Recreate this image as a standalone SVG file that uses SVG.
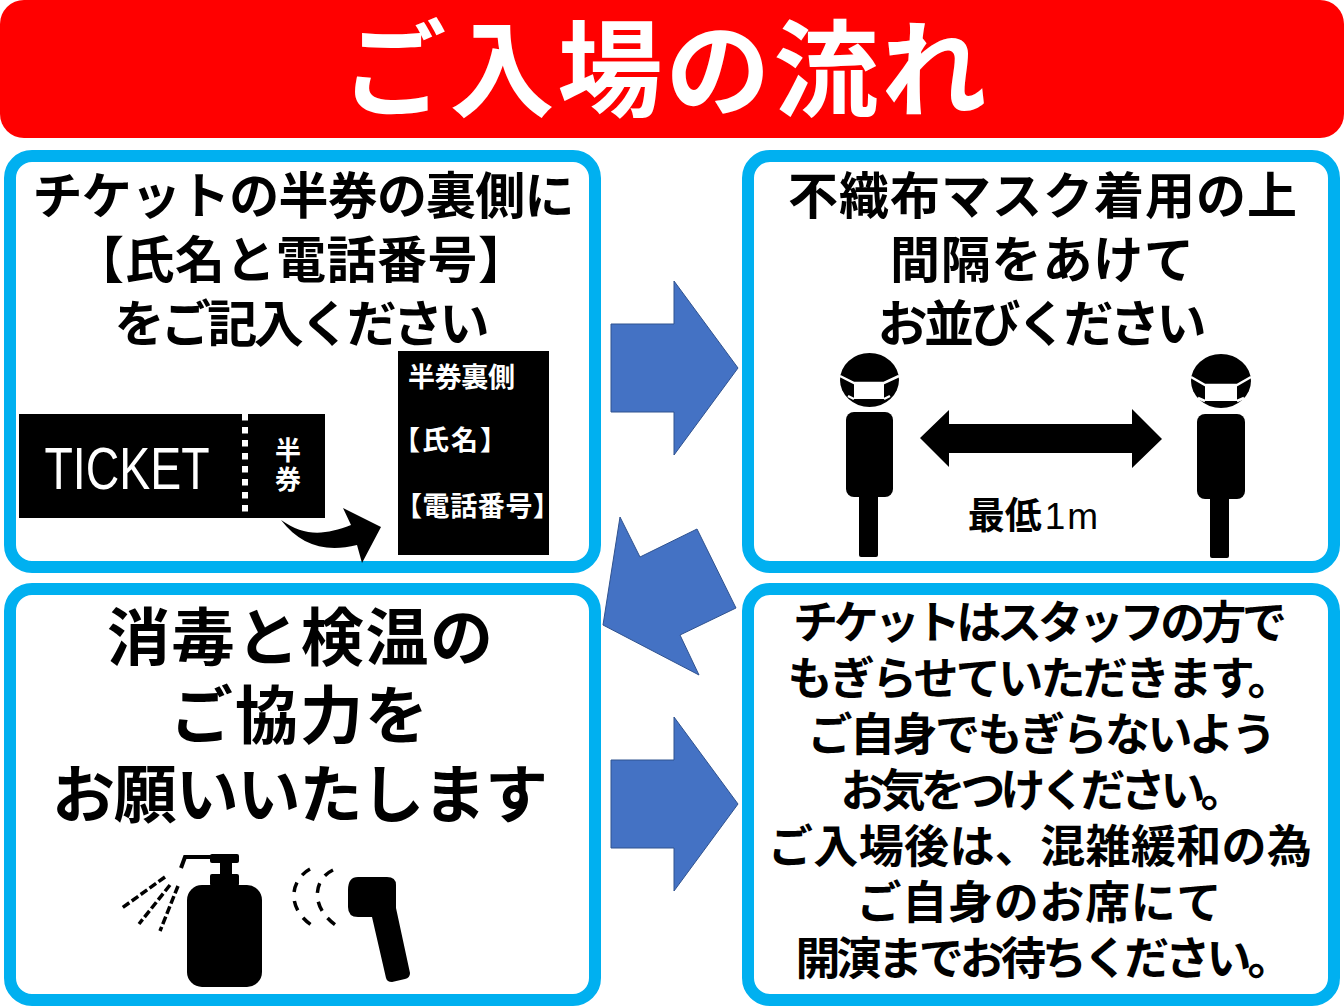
<svg xmlns="http://www.w3.org/2000/svg" width="1344" height="1008" viewBox="0 0 1344 1008">
<style>
text{font-family:"Noto Sans CJK JP","Noto Sans CJK SC",sans-serif;font-weight:700;text-anchor:middle;fill:#000}
.w{fill:#fff}
.s{text-anchor:start;font-size:27px}
.panel{fill:#fff;stroke:#00b0f0;stroke-width:12}
.arrow{fill:#4472c4;stroke:#2f528f;stroke-width:1}
.h1 text{font-size:50px}
.h3 text{font-size:63px}
.h4 text{font-size:45px}
.dash{fill:none;stroke:#000;stroke-width:3.5}
</style>
<rect width="1344" height="1008" fill="#fff"/>
<g id="title">
<rect x="0" y="0" width="1344" height="138" rx="24" fill="#f00"/>
<text class="w" x="664" y="108" style="font-size:105px" textLength="645">ご入場の流れ</text>
</g>
<g id="step1">
<rect class="panel" x="10" y="156" width="585" height="411" rx="22"/>
<g class="h1">
<text x="303.500" y="214" textLength="542">チケットの半券の裏側に</text>
<text x="301" y="278" textLength="454">【氏名と電話番号】</text>
<text x="302" y="342" textLength="375">をご記入ください</text>
</g>
<rect x="19" y="414" width="306" height="104" fill="#000"/>
<path d="M245 414V518" stroke="#fff" stroke-width="6" stroke-dasharray="6.500 6.500" fill="none"/>
<text class="w" x="127" y="489" style="font-family:'Liberation Sans',sans-serif;font-weight:400;font-size:60px" textLength="165" lengthAdjust="spacingAndGlyphs">TICKET</text>
<text class="w" x="288" y="460" style="font-size:26px">半</text>
<text class="w" x="288" y="489" style="font-size:26px">券</text>
<rect x="398" y="351" width="151" height="204" fill="#000"/>
<text class="w s" x="408" y="387" textLength="107">半券裏側</text>
<text class="w s" x="393" y="450" textLength="114">【氏名】</text>
<text class="w s" x="395" y="516" textLength="165">【電話番号】</text>
<path d="M281 520C305 537 325 535 351 525L343 508L381 527L362 563L357 545C325 553 300 545 281 520Z" fill="#000"/>
</g>
<g id="step2">
<rect class="panel" x="748" y="156" width="586" height="411" rx="22"/>
<g class="h1">
<text x="1042.500" y="214" textLength="509">不織布マスク着用の上</text>
<text x="1042" y="278" textLength="304">間隔をあけて</text>
<text x="1042" y="342" textLength="329">お並びください</text>
</g>
<g id="person-left">
<ellipse cx="869.500" cy="380" rx="29.500" ry="27" fill="#000"/>
<path d="M840 376L854 383H884L899 376M854 399L848 396M884 399L890 396" fill="none" stroke="#fff" stroke-width="2.500"/>
<path d="M854 382H884V399H854Z" fill="#fff"/>
<rect x="846" y="412" width="47" height="85" rx="8" fill="#000"/>
<rect x="859" y="490" width="19" height="67" rx="2" fill="#000"/>
</g>
<g id="person-right">
<ellipse cx="1221" cy="381" rx="30" ry="27" fill="#000"/>
<path d="M1191 377L1205 385H1237L1251 377M1205 401L1198 398M1237 401L1244 398" fill="none" stroke="#fff" stroke-width="2.500"/>
<path d="M1205 384H1237V401H1205Z" fill="#fff"/>
<rect x="1197" y="414" width="48" height="85" rx="8" fill="#000"/>
<rect x="1210" y="490" width="19" height="68" rx="2" fill="#000"/>
</g>
<path d="M920 438L949 410V424H1132V409L1162 439L1132 468V453H949V467Z" fill="#000"/>
<text x="1034" y="529" style="font-size:37px">最低<tspan dx="3" style="font-family:'Liberation Sans',sans-serif;font-weight:400;letter-spacing:2px">1m</tspan></text>
</g>
<g id="step3">
<rect class="panel" x="10" y="589" width="585" height="411" rx="22"/>
<g class="h3">
<text x="300" y="660" textLength="386">消毒と検温の</text>
<text x="299" y="738" textLength="258">ご協力を</text>
<text x="300" y="817" textLength="496">お願いいたします</text>
</g>
<g id="bottle">
<path d="M181 868L185 857H211" stroke="#000" fill="none" stroke-width="4"/>
<rect x="210" y="854" width="29" height="9" rx="2" fill="#000"/>
<rect x="220" y="860" width="12" height="16" fill="#000"/>
<rect x="210" y="874" width="29" height="12" rx="2" fill="#000"/>
<rect x="187" y="885" width="75" height="102" rx="15" fill="#000"/>
<path d="M165 877L122 908M170 885L139 924M178 886L160 931" fill="none" stroke="#000" stroke-width="3.500" stroke-dasharray="8 3"/>
</g>
<g id="thermometer">
<path d="M348 890Q348 877 358 877H387Q396 877 396 885L396 908L410 973Q410 978 405 979L392 982Q387 982 386 978L372 917H358Q348 917 348 907Z" fill="#000"/>
<path d="M310 869C290 880 285 910 316 928M333 870C312 880 310 910 340 928" class="dash" stroke-dasharray="10 9"/>
</g>
</g>
<g id="step4">
<rect class="panel" x="748" y="589" width="586" height="411" rx="22"/>
<g class="h4">
<text x="1040" y="639" textLength="494">チケットはスタッフの方で</text>
<text x="1040" y="695" textLength="505">もぎらせていただきます。</text>
<text x="1042" y="751" textLength="469">ご自身でもぎらないよう</text>
<text x="1043" y="807" textLength="405">お気をつけください。</text>
<text x="1040" y="863" textLength="544">ご入場後は、混雑緩和の為</text>
<text x="1039" y="919" textLength="365">ご自身のお席にて</text>
<text x="1044" y="975" textLength="497">開演までお待ちください。</text>
</g>
</g>
<g id="connectors">
<path class="arrow" d="M611 324H674V281L738 368L674 455V412H611Z"/>
<path class="arrow" d="M611 760H674V717L738 804L674 891V848H611Z"/>
<path class="arrow" d="M620 517L640 557L697 529L736 608L680 635L699 675L603 625Z"/>
</g>
</svg>
